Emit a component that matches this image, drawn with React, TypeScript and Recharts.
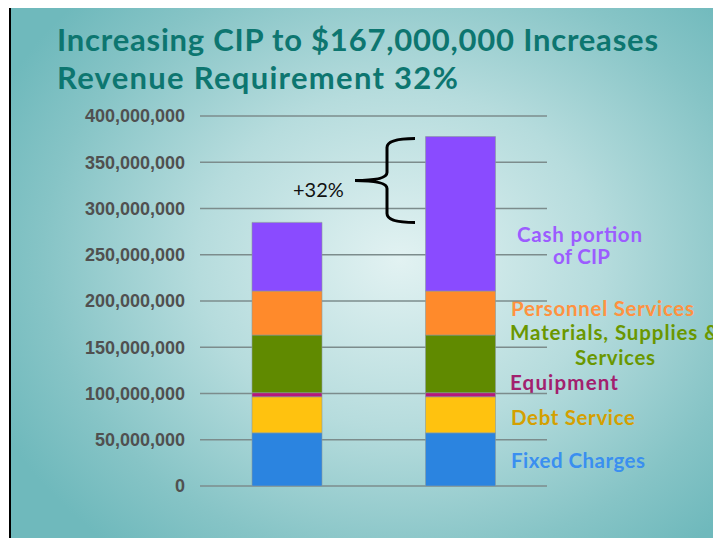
import React from "react";
import {
  BarChart,
  Bar,
  XAxis,
  YAxis,
  CartesianGrid,
  ReferenceArea,
} from "recharts";

// two scenarios: current CIP vs CIP raised to $167M
const scenarios = ["Current CIP", "CIP $167,000,000"];

// cost components, dollars
const fixedCharges = [57500000, 57500000];
const debtService = [39000000, 39000000];
const equipment = [4400000, 4400000];
const materials = [62300000, 62300000];
const personnel = [47600000, 47600000];
const cashCip = [74200000, 167000000];

const yTicks = [0, 50000000, 100000000, 150000000, 200000000, 250000000, 300000000, 350000000, 400000000];

const increaseLabel = "+32%";

const series = [
  { key: "fixed", name: "Fixed Charges", values: fixedCharges, fill: "#2b84e0", text: "#3a8ff0" },
  { key: "debt", name: "Debt Service", values: debtService, fill: "#ffc20f", text: "#d4a000" },
  { key: "equip", name: "Equipment", values: equipment, fill: "#b5197c", text: "#a2206e" },
  { key: "mat", name: "Materials, Supplies & Services", values: materials, fill: "#608a00", text: "#6a9700" },
  { key: "pers", name: "Personnel Services", values: personnel, fill: "#ff8a2b", text: "#ff9240" },
  { key: "cash", name: "Cash portion of CIP", values: cashCip, fill: "#8a4bff", text: "#9c5cff" },
];

const data = scenarios.map((name, i) => {
  const row: Record<string, any> = { name };
  series.forEach((s) => (row[s.key] = s.values[i]));
  return row;
});

const lowTotal = series.reduce((a, s) => a + s.values[0], 0);
const highTotal = series.reduce((a, s) => a + s.values[1], 0);

const fmt = (v: number) => Number(v).toLocaleString("en-US");

// curly brace between the two bar tops
const Brace = (p: any) => {
  const { x = 0, y = 0, height = 0 } = p;
  const tip = x + 155;
  const vx = x + 187;
  const end = x + 215;
  const top = y + 2;
  const mid = top + (height - 2) / 2;
  const b = y + height;
  const d = `M ${end} ${top} Q ${vx} ${top} ${vx} ${top + 9} L ${vx} ${mid - 8} Q ${vx} ${mid} ${tip} ${mid} Q ${vx} ${mid} ${vx} ${mid + 8} L ${vx} ${b - 9} Q ${vx} ${b} ${end} ${b}`;
  return (
    <g>
      <path d={d} fill="none" stroke="#000" strokeWidth={3} />
      <text x={x + 93} y={mid + 17} fontSize={20} fontFamily="Lato, sans-serif" fill="#111">
        {increaseLabel}
      </text>
    </g>
  );
};

const labelFont = "Lato, 'Open Sans', sans-serif";

export default function App() {
  return (
    <div
      style={{
        position: "relative",
        margin: -8,
        width: 721,
        height: 546,
        background: "#fff",
        overflow: "hidden",
      }}
    >
      <div
        style={{
          position: "absolute",
          left: 9,
          top: 5,
          width: 720,
          height: 550,
          borderTop: "2px solid #000",
          borderLeft: "2px solid #000",
          background:
            "radial-gradient(ellipse 62% 68% at 54% 46%, #e2f2f2 0%, #b6dcdd 45%, #86c4c6 80%, #6fb9bc 100%)",
        }}
      />
      <svg
        width={721}
        height={546}
        style={{ position: "absolute", left: 0, top: 0, fontFamily: labelFont }}
      >
        <g fontWeight={700} fontSize={31} fill="#0d7670">
          <text x={57} y={51} textLength={601} lengthAdjust="spacing">
            Increasing CIP to $167,000,000 Increases
          </text>
          <text x={57} y={89} textLength={401} lengthAdjust="spacing">
            Revenue Requirement 32%
          </text>
        </g>
        <g fontWeight={700} fontSize={20.5}>
          <text x={517} y={242} textLength={125} fill={series[5].text}>Cash portion</text>
          <text x={553} y={264} textLength={57} fill={series[5].text}>of CIP</text>
          <text x={511} y={316} textLength={183} fill={series[4].text}>Personnel Services</text>
          <text x={510} y={340} textLength={209} fill={series[3].text}>Materials, Supplies &amp;</text>
          <text x={575} y={365} textLength={80} fill={series[3].text}>Services</text>
          <text x={510} y={390} textLength={108} fill={series[2].text}>Equipment</text>
          <text x={511} y={425} textLength={124} fill={series[1].text}>Debt Service</text>
          <text x={511} y={468} textLength={134} fill={series[0].text}>Fixed Charges</text>
        </g>
      </svg>
      <div style={{ position: "absolute", left: 0, top: 90 }}>
        <BarChart
          width={560}
          height={420}
          data={data}
          barSize={70}
          margin={{ top: 26, right: 13, left: 0, bottom: 24 }}
        >
          <CartesianGrid vertical={false} stroke="#7c8c8c" strokeWidth={1.4} />
          <XAxis dataKey="name" hide />
          <YAxis
            width={200}
            domain={[0, 400000000]}
            ticks={yTicks}
            tickFormatter={fmt}
            axisLine={false}
            tickLine={false}
            tickSize={0}
            tickMargin={15}
            tick={{
              fill: "#505050",
              fontSize: 18,
              fontWeight: 700,
              fontFamily: "'Liberation Sans', Arial, sans-serif",
            }}
          />
          {series.map((s) => (
            <Bar
              key={s.key}
              dataKey={s.key}
              name={s.name}
              stackId="a"
              fill={s.fill}
              stroke="#8a9a9a"
              strokeWidth={0.6}
              isAnimationActive={false}
            />
          ))}
          <ReferenceArea
            y1={lowTotal}
            y2={highTotal}
            ifOverflow="visible"
            shape={(p: any) => <Brace {...p} />}
          />
        </BarChart>
      </div>
    </div>
  );
}
